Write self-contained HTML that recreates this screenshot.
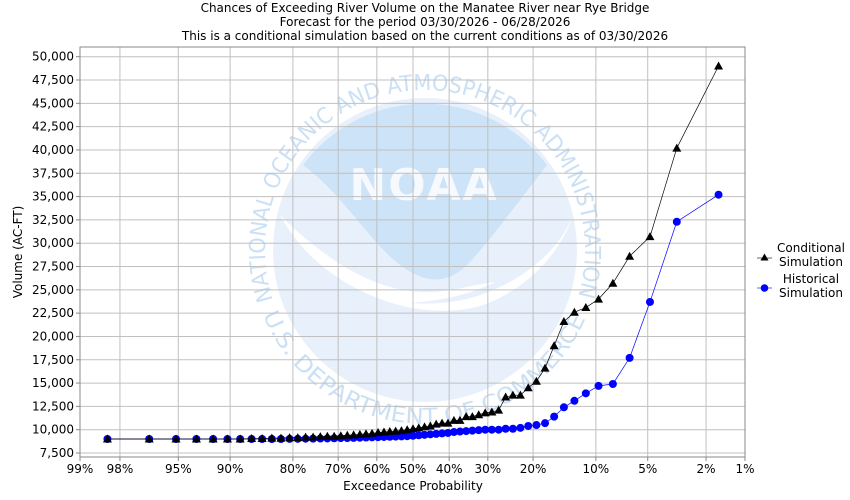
<!DOCTYPE html>
<html><head><meta charset="utf-8"><style>
html,body{margin:0;padding:0;background:#fff;}
svg{display:block;font-family:"DejaVu Sans","Liberation Sans",sans-serif;}
</style></head><body>
<svg id="s" width="850" height="500" xmlns="http://www.w3.org/2000/svg">
<rect width="850" height="500" fill="#fff"/>
<g font-size="12" fill="#000" text-anchor="middle">
<text x="425" y="12">Chances of Exceeding River Volume on the Manatee River near Rye Bridge</text>
<text x="425" y="26">Forecast for the period 03/30/2026 - 06/28/2026</text>
<text x="425" y="40">This is a conditional simulation based on the current conditions as of 03/30/2026</text>
</g>
<defs>
<path id="arcTop" d="M 273,300 A 160,160 0 1 1 577,300"/>
<path id="arcBot" d="M 263,315 A 175,175 0 0 0 587,315"/>
</defs>
<g id="wm">
<circle cx="425" cy="250" r="152" fill="#e8f1fb"/>
<path d="M303,165 A152,152 0 0 1 547,165 C520,200 490,240 470,262 C455,278 440,282 425,278 C410,274 390,260 370,235 C350,212 330,185 303,165 Z" fill="#cde3f7"/>
<path d="M280,215 C320,255 370,290 420,292 C450,293 470,285 495,282 C475,292 450,300 410,303 C450,306 480,298 510,282 C545,262 562,240 572,218 C560,252 528,290 480,306 C430,320 370,302 330,272 C308,256 292,237 280,215 Z" fill="#ffffff"/>
<text x="424" y="200" font-size="44" font-weight="bold" fill="#f6f9fd" text-anchor="middle" letter-spacing="2">NOAA</text>
<text font-size="22" fill="#cbe0f5"><textPath href="#arcTop" textLength="600" lengthAdjust="spacingAndGlyphs">NATIONAL OCEANIC AND ATMOSPHERIC ADMINISTRATION</textPath></text>
<text font-size="22" fill="#cbe0f5"><textPath href="#arcBot" textLength="410" lengthAdjust="spacingAndGlyphs">U.S. DEPARTMENT OF COMMERCE</textPath></text>
</g>
<g id="grid"></g>
<g id="series"></g>
<g font-size="12" fill="#000">
<text x="0" y="0" transform="translate(22,252) rotate(-90)" text-anchor="middle">Volume (AC-FT)</text>
<text x="413" y="490" text-anchor="middle">Exceedance Probability</text>
<text x="811" y="252" text-anchor="middle">Conditional</text>
<text x="811" y="266" text-anchor="middle">Simulation</text>
<text x="811" y="283" text-anchor="middle">Historical</text>
<text x="811" y="297" text-anchor="middle">Simulation</text>
</g>
<line x1="757" y1="258" x2="772" y2="258" stroke="#000" stroke-width="0.6"/>
<polygon points="764.5,253.5 768.5,260.5 760.5,260.5" fill="#000"/>
<line x1="757" y1="288" x2="772" y2="288" stroke="#00f" stroke-width="0.6"/>
<circle cx="764.5" cy="288" r="3.8" fill="#00f"/>
</svg>
<script>
var NS="http://www.w3.org/2000/svg";
function el(t,a,p){var e=document.createElementNS(NS,t);for(var k in a)e.setAttribute(k,a[k]);if(p)p.appendChild(e);return e;}
function ninv(p){var a=[-39.6968302866538,220.946098424521,-275.928510446969,138.357751867269,-30.6647980661472,2.50662827745924],b=[-54.4760987982241,161.585836858041,-155.698979859887,66.8013118877197,-13.2806815528857],c=[-0.00778489400243029,-0.322396458041136,-2.40075827716184,-2.54973253934373,4.37466414146497,2.93816398269878],d=[0.00778469570904146,0.32246712907004,2.445134137143,3.75440866190742];var q,r;if(p<0.02425){q=Math.sqrt(-2*Math.log(p));return(((((c[0]*q+c[1])*q+c[2])*q+c[3])*q+c[4])*q+c[5])/((((d[0]*q+d[1])*q+d[2])*q+d[3])*q+1);}if(p>1-0.02425){q=Math.sqrt(-2*Math.log(1-p));return-(((((c[0]*q+c[1])*q+c[2])*q+c[3])*q+c[4])*q+c[5])/((((d[0]*q+d[1])*q+d[2])*q+d[3])*q+1);}q=p-0.5;r=q*q;return(((((a[0]*r+a[1])*r+a[2])*r+a[3])*r+a[4])*r+a[5])*q/(((((b[0]*r+b[1])*r+b[2])*r+b[3])*r+b[4])*r+1);}
var L=80,R=745,T=47,B=457;
function X(p){return 413-142.7*ninv(p);}
function Y(v){return 453-(v-7500)*(396.3/42500);}
var g=document.getElementById('grid');
for(var v=7500;v<=50000;v+=2500){var y=Y(v);el('line',{x1:L,x2:R,y1:y,y2:y,stroke:'#c0c0c0','stroke-width':1},g);el('line',{x1:L-4,x2:L,y1:y,y2:y,stroke:'#888'},g);var t=el('text',{x:L-6,y:y+4,'font-size':12,'text-anchor':'end'},g);t.textContent=v.toLocaleString('en-US');}
var ps=[0.99,0.98,0.95,0.9,0.8,0.7,0.6,0.5,0.4,0.3,0.2,0.1,0.05,0.02,0.01];
ps.forEach(function(p){var x=X(p);if(p==0.99)x=L;if(p==0.01)x=R;el('line',{x1:x,x2:x,y1:T,y2:B,stroke:'#c0c0c0'},g);el('line',{x1:x,x2:x,y1:B,y2:B+4,stroke:'#888'},g);var t=el('text',{x:x,y:B+16,'font-size':12,'text-anchor':'middle'},g);t.textContent=Math.round(p*100)+'%';});
el('rect',{x:L,y:T,width:R-L,height:B-T,fill:'none',stroke:'#888'},g);
var cond=[49000,40200,30700,28600,25700,24000,23100,22600,21600,19000,16600,15200,14500,13700,13700,13500,12100,11900,11800,11600,11400,11400,11000,11000,10700,10700,10600,10400,10300,10200,10100,10000,9900,9850,9800,9750,9700,9600,9550,9500,9450,9400,9350,9300,9300,9250,9200,9200,9150,9150,9100,9100,9050,9050,9000,9000,9000,9000,9000,9000,9000];
var hist=[35200,32300,23700,17700,14900,14700,13900,13100,12400,11400,10700,10500,10400,10200,10100,10100,10000,10000,10000,9950,9900,9850,9800,9750,9650,9600,9550,9500,9450,9400,9350,9300,9280,9260,9240,9220,9200,9180,9160,9140,9120,9100,9100,9080,9060,9050,9040,9030,9020,9010,9000,9000,9000,9000,9000,9000,9000,9000,9000,9000,9000];
var s=document.getElementById('series');
function draw(arr,col,tri){var pts=arr.map(function(v,i){return [X((i+1)/62),Y(v)];});el('polyline',{points:pts.map(function(p){return p.join(',')}).join(' '),fill:'none',stroke:col,'stroke-width':0.7},s);pts.forEach(function(p){if(tri)el('polygon',{points:p[0]+','+(p[1]-4.5)+' '+(p[0]+4.5)+','+(p[1]+3.5)+' '+(p[0]-4.5)+','+(p[1]+3.5),fill:col},s);else el('circle',{cx:p[0],cy:p[1],r:4,fill:col},s);});}
draw(hist,'#0000ff',false);
draw(cond,'#000000',true);
</script>
</body></html>
